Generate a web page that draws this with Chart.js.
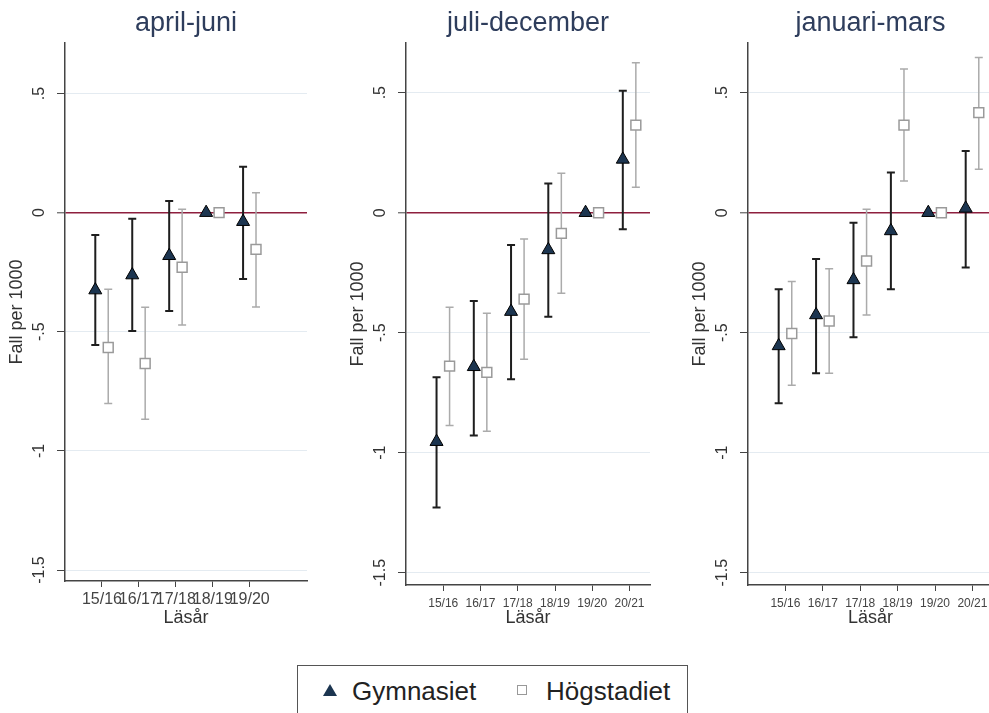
<!DOCTYPE html>
<html>
<head>
<meta charset="utf-8">
<script src="https://cdn.jsdelivr.net/npm/chart.js@4.4.1/dist/chart.umd.min.js"></script>
<style>
  html, body { margin:0; padding:0; background:#fff; width:989px; height:713px; overflow:hidden; position:relative; font-family:"Liberation Sans", Arial, sans-serif; }
  .pane { position:absolute; top:0; width:330px; height:660px; }
  #legend { position:absolute; left:297px; top:665px; width:391px; height:60px; border:1.5px solid #555; box-sizing:border-box; font-size:26px; color:#222; }
  .item { position:absolute; top:10px; line-height:30px; }
  .mk-tri { position:absolute; width:0; height:0; border-left:7px solid transparent; border-right:7px solid transparent; border-bottom:12px solid #1c3550; }
  .mk-sq { position:absolute; width:8px; height:8px; border:1.5px solid #999; background:#fff; }
</style>
</head>
<body>
<div class="pane" style="left:0px"><canvas id="c1"></canvas></div>
<div class="pane" style="left:341px"><canvas id="c2"></canvas></div>
<div class="pane" style="left:683px"><canvas id="c3"></canvas></div>
<div id="legend">
  <span class="mk-tri" style="left:25px; top:18px;"></span>
  <span class="item" style="left:54px;">Gymnasiet</span>
  <span class="mk-sq" style="left:219px; top:19px;"></span>
  <span class="item" style="left:248px;">Högstadiet</span>
</div>
<script>
// ---- categories / tick labels ----
const catsAprJun = ['15/16','16/17','17/18','18/19','19/20'];
const catsJulDec = ['15/16','16/17','17/18','18/19','19/20','20/21'];
const catsJanMar = ['15/16','16/17','17/18','18/19','19/20','20/21'];
const yTickValues = [-1.5, -1, -0.5, 0, 0.5];
const yTickLabels = ['-1.5', '-1', '-.5', '0', '.5'];
const panelTitles = ['april-juni', 'juli-december', 'januari-mars'];
const seriesNames = ['Gymnasiet', 'Högstadiet'];

// ---- april-juni ----
const aprGym   = [-0.325, -0.262, -0.181, 0, -0.038];
const aprGymLo = [-0.556, -0.497, -0.413, null, -0.279];
const aprGymHi = [-0.094, -0.026, 0.049, null, 0.193];
const aprHog   = [-0.566, -0.633, -0.229, 0, -0.154];
const aprHogLo = [-0.801, -0.867, -0.472, null, -0.396];
const aprHogHi = [-0.322, -0.397, 0.014, null, 0.084];

// ---- juli-december ----
const julGym   = [-0.954, -0.642, -0.412, -0.155, 0, 0.222];
const julGymLo = [-1.228, -0.928, -0.694, -0.433, null, -0.069];
const julGymHi = [-0.686, -0.368, -0.135, 0.122, null, 0.508];
const julHog   = [-0.639, -0.665, -0.360, -0.086, 0, 0.365];
const julHogLo = [-0.886, -0.910, -0.611, -0.336, null, 0.106];
const julHogHi = [-0.394, -0.419, -0.110, 0.164, null, 0.625];

// ---- januari-mars ----
const janGym   = [-0.555, -0.426, -0.280, -0.076, 0, 0.018];
const janGymLo = [-0.794, -0.669, -0.519, -0.319, null, -0.228];
const janGymHi = [-0.319, -0.193, -0.042, 0.167, null, 0.257];
const janHog   = [-0.503, -0.451, -0.201, 0.365, 0, 0.417];
const janHogLo = [-0.719, -0.669, -0.426, 0.132, null, 0.181];
const janHogHi = [-0.287, -0.233, 0.014, 0.599, null, 0.647];

const FONT = '"Liberation Sans", Arial, sans-serif';
const GYM_OFF = -0.18, HOG_OFF = 0.17;

const errorBars = {
  id: 'errorBars',
  beforeDatasetsDraw(chart) {
    const ctx = chart.ctx;
    const xs = chart.scales.x, ys = chart.scales.y;
    chart.data.datasets.forEach((ds) => {
      if (!ds.lo) return;
      ctx.save();
      ctx.strokeStyle = ds.barColor;
      ctx.lineWidth = ds.barWidth;
      ds.data.forEach((p, i) => {
        const lo = ds.lo[i], hi = ds.hi[i];
        if (lo == null || hi == null) return;
        const x = xs.getPixelForValue(p.x);
        const y1 = ys.getPixelForValue(lo), y2 = ys.getPixelForValue(hi);
        ctx.beginPath();
        ctx.moveTo(x, y1); ctx.lineTo(x, y2);
        ctx.moveTo(x - 4, y1); ctx.lineTo(x + 4, y1);
        ctx.moveTo(x - 4, y2); ctx.lineTo(x + 4, y2);
        ctx.stroke();
      });
      ctx.restore();
    });
  }
};

function makePanel(id, title, cats, g, gLo, gHi, h, hLo, hHi, cfg) {
  const gData = g.map((v, i) => ({x: i + 1 + GYM_OFF, y: v}));
  const hData = h.map((v, i) => ({x: i + 1 + HOG_OFF, y: v}));
  new Chart(document.getElementById(id), {
    type: 'scatter',
    data: {
      datasets: [
        { label: seriesNames[1], data: hData, lo: hLo, hi: hHi, barColor: '#ababab', barWidth: 1.5,
          pointStyle: 'rect', pointRadius: 7, pointBackgroundColor: '#fff', pointBorderColor: '#9a9a9a', pointBorderWidth: 1.5 },
        { label: seriesNames[0], data: gData, lo: gLo, hi: gHi, barColor: '#1e1e1e', barWidth: 2,
          pointStyle: 'triangle', pointRadius: 7.5, pointBackgroundColor: '#1c3550', pointBorderColor: '#000', pointBorderWidth: 1 }
      ]
    },
    options: {
      responsive: false,
      animation: false,
      devicePixelRatio: 1,
      layout: { padding: { left: 0, right: cfg.padRight, top: 0, bottom: 0 } },
      plugins: {
        legend: { display: false },
        tooltip: { enabled: false },
        title: { display: true, text: title, fullSize: false, color: '#2e3d5c',
                 font: { family: FONT, size: 27, weight: 'normal' }, padding: { top: 7, bottom: 3.6 } }
      },
      scales: {
        x: {
          type: 'linear', min: 0, max: 6.55,
          afterBuildTicks: s => { s.ticks = cats.map((c, i) => ({ value: i + 1 })); },
          afterFit: s => { s.height = cfg.xHeight; },
          ticks: { callback: v => cats[v - 1], autoSkip: false, maxRotation: 0, minRotation: 0,
                   color: '#444', padding: cfg.xPad, font: { family: FONT, size: cfg.xFont } },
          grid: { drawOnChartArea: false, drawTicks: true, tickLength: 6, tickColor: '#444', tickWidth: 1 },
          border: { display: true, color: '#444', width: 1.5 },
          title: { display: true, text: 'Läsår', color: '#333', font: { family: FONT, size: 18 }, padding: { top: 0, bottom: 31 } }
        },
        y: {
          type: 'linear', min: cfg.yMin, max: cfg.yMax,
          afterBuildTicks: s => { s.ticks = yTickValues.map(v => ({ value: v })); },
          afterFit: s => { s.width = 65; },
          ticks: { callback: v => yTickLabels[yTickValues.indexOf(v)], minRotation: 90, maxRotation: 90,
                   crossAlign: 'center', padding: 4, color: '#333', font: { family: FONT, size: 16 } },
          grid: { drawTicks: true, tickLength: 8, tickColor: '#444', tickWidth: 1,
                  color: c => (c.tick && c.tick.value === 0) ? '#8e1f3e' : '#e4ebf1',
                  lineWidth: c => (c.tick && c.tick.value === 0) ? 1.6 : 1 },
          border: { display: true, color: '#444', width: 1.5 },
          title: { display: true, text: 'Fall per 1000', color: '#333', font: { family: FONT, size: 18 }, padding: { top: 6, bottom: 0 } }
        }
      }
    },
    plugins: [errorBars]
  });
}

function sizeCanvas(id) { const c = document.getElementById(id); c.width = 330; c.height = 660; c.style.width = '330px'; c.style.height = '660px'; }
['c1','c2','c3'].forEach(sizeCanvas);

makePanel('c1', panelTitles[0], catsAprJun, aprGym, aprGymLo, aprGymHi, aprHog, aprHogLo, aprHogHi,
  { padRight: 23, xHeight: 79, xFont: 16, xPad: 3, yMin: -1.546, yMax: 0.712 });
makePanel('c2', panelTitles[1], catsJulDec, julGym, julGymLo, julGymHi, julHog, julHogLo, julHogHi,
  { padRight: 21, xHeight: 75, xFont: 12, xPad: 5, yMin: -1.551, yMax: 0.707 });
makePanel('c3', panelTitles[2], catsJanMar, janGym, janGymLo, janGymHi, janHog, janHogLo, janHogHi,
  { padRight: 20, xHeight: 75, xFont: 12, xPad: 5, yMin: -1.551, yMax: 0.707 });
</script>
</body>
</html>
